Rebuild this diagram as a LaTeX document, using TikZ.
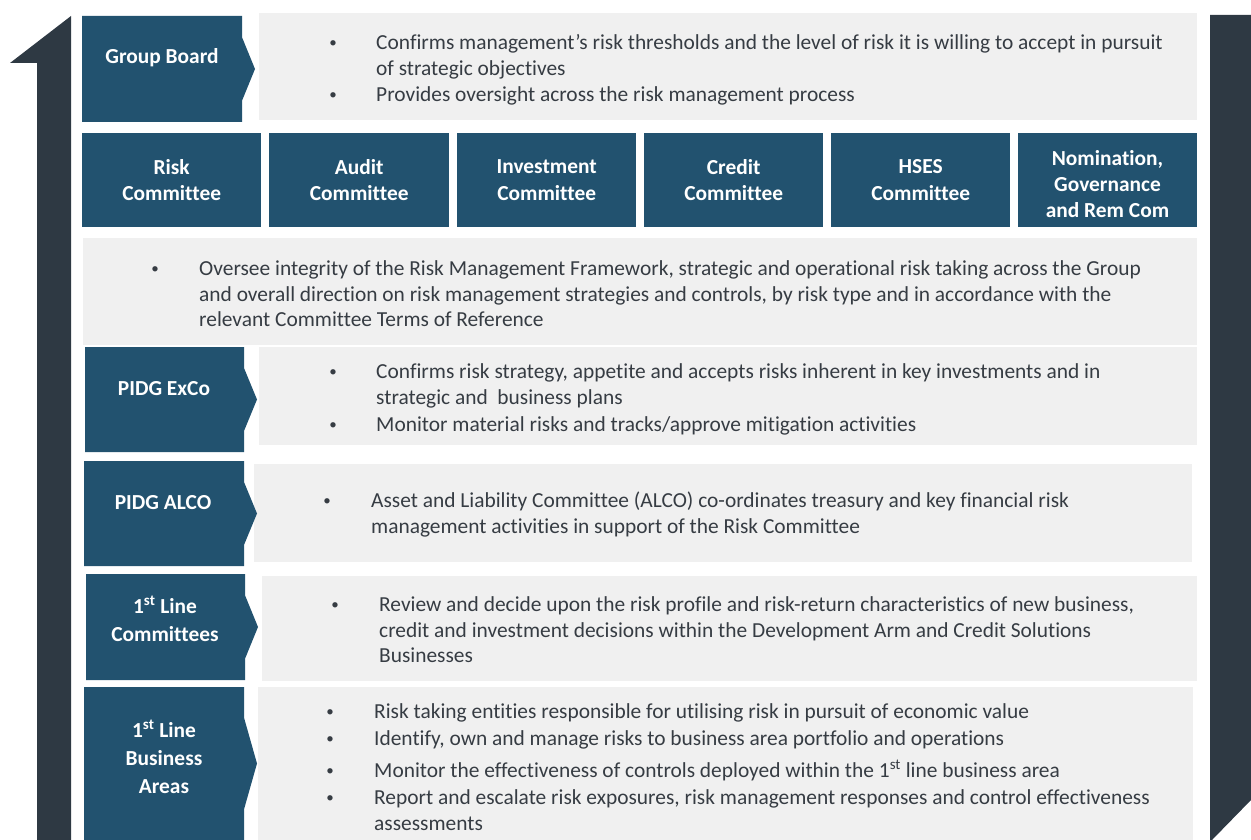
\documentclass[tikz,border=0pt]{standalone}
\usepackage{fontspec}
\setmainfont[Ligatures=NoCommon]{Carlito}
\definecolor{boxblue}{HTML}{22526F}
\definecolor{arrowdark}{HTML}{2E3943}
\definecolor{panel}{HTML}{F0F0F0}
\definecolor{bodytext}{HTML}{363C43}

\tikzset{
  panelbox/.style={fill=panel, draw=none, inner sep=0, anchor=north west},
  cbox/.style={fill=boxblue, draw=none, inner sep=0, anchor=north west,
    text=white, font=\bfseries\fontsize{21.4}{26.5}\selectfont, align=center},
  lbl/.style={text=white, font=\bfseries\fontsize{21.4}{28}\selectfont, align=center, inner sep=0},
  txt/.style={text=bodytext, font=\fontsize{21.4}{25.5}\selectfont, anchor=base west, inner sep=0, yshift=-1.5pt},
  dot/.style={text=bodytext, font=\fontsize{15}{25.5}\selectfont, anchor=base, inner sep=0, yshift=-1.5pt},
}
% blue label box with a small chevron on its right edge: left, top, right, bottom
\newcommand\chevronbox[4]{%
  \fill[boxblue] (#1,#2) -- (#3,#2) -- (#3,{#2+0.2*(#4-#2)}) -- ({#3+13},{(#2+#4)/2})
    -- (#3,{#4-0.2*(#4-#2)}) -- (#3,#4) -- (#1,#4) -- cycle;}

\begin{document}
\begin{tikzpicture}[x=1pt,y=-1pt]
\useasboundingbox (0,0) rectangle (1251,840);

% escalation arrows at both sides
\fill[arrowdark] (37,840) -- (37,63) -- (10,63) -- (71,16) -- (71,840) -- cycle;
\fill[arrowdark] (1210,15) -- (1251,15) -- (1251,800) -- (1212,840) -- (1210,840) -- cycle;

% ---------- Group Board ----------
\path (259,13) node[panelbox, minimum width=938pt, minimum height=107pt] (gbp) {};
\chevronbox{82}{16}{242}{122}
\node[lbl] (gb) at (162,58) {Group Board};
\node[dot] (gbd1) at (333,46) {•};
\node[txt] (gbt1) at (376,48) {Confirms management’s risk thresholds and the level of risk it is willing to accept in pursuit};
\node[txt] (gbt2) at (376,74) {of strategic objectives};
\node[dot] (gbd2) at (333,98) {•};
\node[txt] (gbt3) at (376,100) {Provides oversight across the risk management process};

% ---------- Board committees ----------
\path (82,133)   node[cbox, minimum width=179pt, minimum height=94pt] (rc) {Risk\\Committee};
\path (269,133)  node[cbox, minimum width=180pt, minimum height=94pt] (ac) {Audit\\Committee};
\path (457,133)  node[cbox, minimum width=179pt, minimum height=94pt] (ic) {Investment\\Committee};
\path (644,133)  node[cbox, minimum width=179pt, minimum height=94pt] (cc) {Credit\\Committee};
\path (831,133)  node[cbox, minimum width=179pt, minimum height=94pt] (hc) {HSES\\Committee};
\path (1018,133) node[cbox, minimum width=179pt, minimum height=94pt] (nc) {};
\node[lbl, font=\bfseries\fontsize{21.4}{26}\selectfont] (ncl) at (1107.5,184) {Nomination,\\Governance\\and Rem Com};

\path (83,238) node[panelbox, minimum width=1114pt, minimum height=107pt] (cmp) {};
\node[dot] (cmd1) at (155,272) {•};
\node[txt] (cmt1) at (199,274) {Oversee integrity of the Risk Management Framework, strategic and operational risk taking across the Group};
\node[txt] (cmt2) at (199,300) {and overall direction on risk management strategies and controls, by risk type and in accordance with the};
\node[txt] (cmt3) at (199,325) {relevant Committee Terms of Reference};

% ---------- PIDG ExCo ----------
\path (259,347) node[panelbox, minimum width=938pt, minimum height=98pt] (exp) {};
\chevronbox{85}{347}{244}{452}
\node[lbl] (ex) at (164,389) {PIDG ExCo};
\node[dot] (exd1) at (333,375) {•};
\node[txt] (ext1) at (376,377) {Confirms risk strategy, appetite and accepts risks inherent in key investments and in};
\node[txt] (ext2) at (376,403) {strategic and\ \ business plans};
\node[dot] (exd2) at (333,428) {•};
\node[txt] (ext3) at (376,430) {Monitor material risks and tracks/approve mitigation activities};

% ---------- PIDG ALCO ----------
\path (254,464) node[panelbox, minimum width=938pt, minimum height=98pt] (alp) {};
\chevronbox{84}{461}{244}{566}
\node[lbl] (al) at (163,503) {PIDG ALCO};
\node[dot] (ald1) at (327,504) {•};
\node[txt] (alt1) at (371,506) {Asset and Liability Committee (ALCO) co-ordinates treasury and key financial risk};
\node[txt] (alt2) at (371,532) {management activities in support of the Risk Committee};

% ---------- 1st line committees ----------
\path (262,576) node[panelbox, minimum width=935pt, minimum height=105pt] (lcp) {};
\chevronbox{86}{574}{245}{680}
\node[lbl] (lc) at (165,619) {1\textsuperscript{st} Line\\Committees};
\node[dot] (lcd1) at (335,608) {•};
\node[txt] (lct1) at (379,610) {Review and decide upon the risk profile and risk-return characteristics of new business,};
\node[txt] (lct2) at (379,636) {credit and investment decisions within the Development Arm and Credit Solutions};
\node[txt] (lct3) at (379,661) {Businesses};

% ---------- 1st line business areas ----------
\path (258,687) node[panelbox, minimum width=935pt, minimum height=153pt] (bap) {};
\chevronbox{84}{687}{244}{840}
\node[lbl] (ba) at (164,757) {1\textsuperscript{st} Line\\Business\\Areas};
\node[dot] (bad1) at (330,715) {•};
\node[txt] (bat1) at (374,717) {Risk taking entities responsible for utilising risk in pursuit of economic value};
\node[dot] (bad2) at (330,742) {•};
\node[txt] (bat2) at (374,744) {Identify, own and manage risks to business area portfolio and operations};
\node[dot] (bad3) at (330,774) {•};
\node[txt] (bat3) at (374,776) {Monitor the effectiveness of controls deployed within the 1\textsuperscript{st} line business area};
\node[dot] (bad4) at (330,801) {•};
\node[txt] (bat4) at (374,803) {Report and escalate risk exposures, risk management responses and control effectiveness};
\node[txt] (bat5) at (374,829) {assessments};
\end{tikzpicture}
\end{document}
